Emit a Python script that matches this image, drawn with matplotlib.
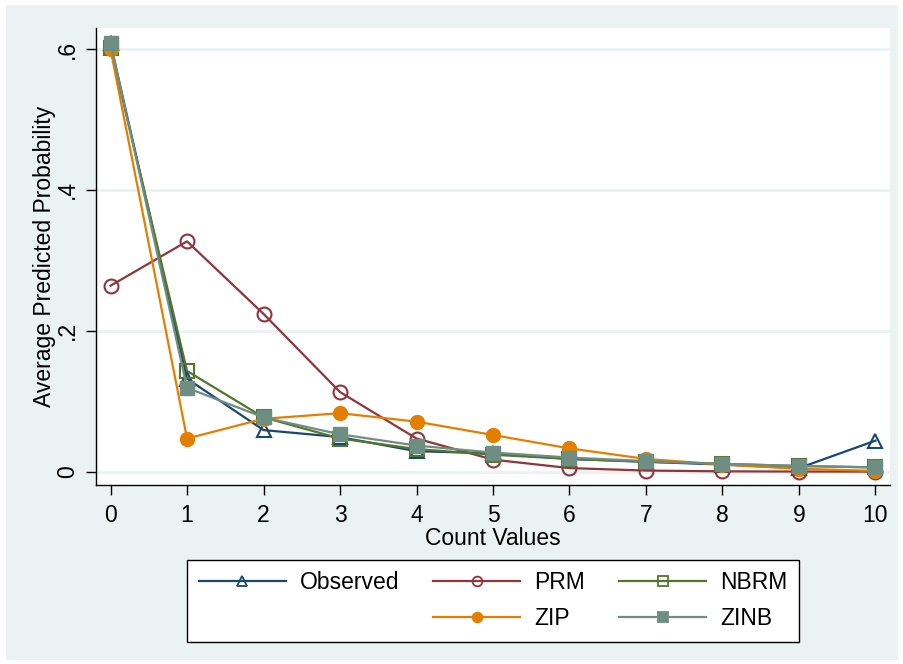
import matplotlib
matplotlib.use("Agg")
import matplotlib.pyplot as plt
from matplotlib.lines import Line2D
from matplotlib.patches import Rectangle

plt.rcParams['font.family'] = ['Liberation Sans', 'DejaVu Sans']

counts = [0, 1, 2, 3, 4, 5, 6, 7, 8, 9, 10]
observed = [0.608, 0.132, 0.059, 0.049, 0.029, 0.026, 0.018, 0.014, 0.010, 0.005, 0.044]
prm = [0.264, 0.327, 0.224, 0.113, 0.047, 0.017, 0.005, 0.0015, 0.0004, 0.0001, 0.0]
nbrm = [0.601, 0.143, 0.077, 0.047, 0.032, 0.024, 0.018, 0.014, 0.011, 0.008, 0.006]
zip_ = [0.600, 0.047, 0.075, 0.083, 0.071, 0.052, 0.033, 0.018, 0.010, 0.004, 0.001]
zinb = [0.609, 0.119, 0.077, 0.053, 0.037, 0.027, 0.020, 0.015, 0.011, 0.008, 0.006]
yticks = [0, 0.2, 0.4, 0.6]
ytick_labels = ["0", ".2", ".4", ".6"]

NAVY = "#1a476f"
MAROON = "#90353b"
GREEN = "#55752f"
ORANGE = "#e37e00"
TEAL = "#6e8e84"
BG = "#eaf2f3"
FS = 16.5

fig = plt.figure(figsize=(9.04, 6.64), dpi=100)
fig.patch.set_facecolor("white")
fig.patches.append(Rectangle((6/904, 1-660/664), 892/904, 655/664, transform=fig.transFigure,
                             facecolor=BG, edgecolor="none", zorder=-10))

ax = fig.add_axes([96/904, 1-485/664, 794/904, 457/664])
ax.set_facecolor("white")

lw = 1.6
ax.plot(counts, observed, color=NAVY, lw=lw, marker="^", ms=10, mfc="none", mec=NAVY, mew=1.5, label="Observed", zorder=3)
ax.plot(counts, prm, color=MAROON, lw=lw, marker="o", ms=10, mfc="none", mec=MAROON, mew=1.5, label="PRM", zorder=3)
ax.plot(counts, nbrm, color=GREEN, lw=lw, marker="s", ms=9.5, mfc="none", mec=GREEN, mew=1.5, label="NBRM", zorder=3)
ax.plot(counts, zip_, color=ORANGE, lw=lw, marker="o", ms=10, mfc=ORANGE, mec=ORANGE, label="ZIP", zorder=3)
ax.plot(counts, zinb, color=TEAL, lw=lw, marker="s", ms=10, mfc=TEAL, mec=TEAL, label="ZINB", zorder=3)

ax.set_xlim(-0.19, 10.19)
ax.set_ylim(-0.019, 0.63)
ax.set_xticks(counts)
ax.set_yticks(yticks)
ax.set_yticklabels(ytick_labels, rotation=90, va="center")
for y in yticks:
    ax.axhline(y, color=BG, lw=2, zorder=1)

for s in ["top", "right"]:
    ax.spines[s].set_visible(False)
for s in ["left", "bottom"]:
    ax.spines[s].set_color("#000000")
    ax.spines[s].set_linewidth(1.0)
ax.tick_params(axis="both", direction="out", length=7, width=1, labelsize=FS)
ax.tick_params(axis="x", pad=7)
ax.tick_params(axis="y", pad=5)

ax.set_xlabel("Count Values", fontsize=FS, labelpad=0)
ax.set_ylabel("Average Predicted Probability", fontsize=FS, labelpad=0)

blank = Line2D([], [], color="none")
def lh(src, ms=7):
    return Line2D([], [], color=src.get_color(), lw=lw, marker=src.get_marker(), ms=ms,
                  mfc=src.get_markerfacecolor(), mec=src.get_markeredgecolor(), mew=1.3)
lines = {l.get_label(): l for l in ax.get_lines() if not l.get_label().startswith("_")}
leg_handles = [lh(lines["Observed"]), blank, lh(lines["PRM"]), lh(lines["ZIP"]),
               lh(lines["NBRM"]), lh(lines["ZINB"])]
labels = ["Observed", "", "PRM", "ZIP", "NBRM", "ZINB"]
leg = fig.legend(leg_handles, labels, ncol=3, loc="upper center",
                 bbox_to_anchor=(493/904, 1-560/664), borderaxespad=0, fontsize=FS,
                 frameon=True, fancybox=False, edgecolor="black", framealpha=1,
                 handlelength=3.8, columnspacing=1.5, handletextpad=0.6,
                 borderpad=0.5, labelspacing=0.55)
leg.get_frame().set_linewidth(1.0)

fig.savefig("out.png", dpi=100, facecolor=fig.get_facecolor())
